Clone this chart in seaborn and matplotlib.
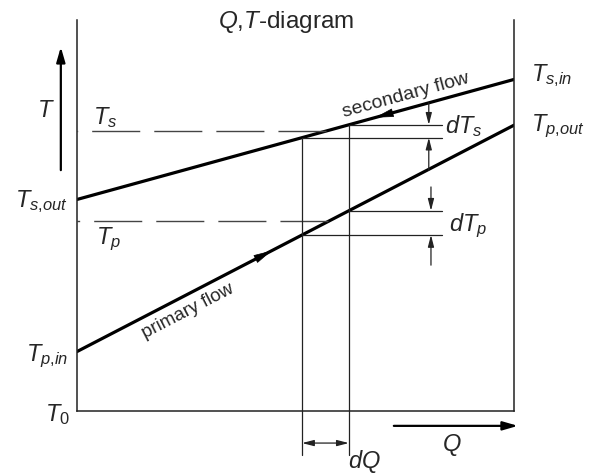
import numpy as np
import pandas as pd
import matplotlib
matplotlib.use('Agg')
import matplotlib.pyplot as plt
import seaborn as sns

sns.set_style('white')
plt.rcParams['font.family'] = ['Liberation Sans', 'DejaVu Sans']
plt.rcParams['mathtext.fontset'] = 'custom'
plt.rcParams['mathtext.rm'] = 'Liberation Sans'
plt.rcParams['mathtext.it'] = 'Liberation Sans:italic'

# Q,T diagram values (arbitrary units, T0 = 0)
Q_ends = [0.0, 10.0]
T_secondary = [5.41, 8.48]
T_primary = [1.52, 7.31]
Q_slice = [5.15, 6.22]          # the dQ slice
T_s_mid = 7.16
T_p_mid = 4.85
Q_dT_s = 8.05
Q_dT_p = 8.10
Q_tick_end = 8.35
T_slice_bottom = -1.13
T_dQ_arrow = -0.82
T_dTs_tails = [7.88, 6.16]
T_dTp_tails = [5.73, 3.73]
Q_axis_arrow = [7.25, 10.09]
T_of_Q_arrow = -0.38
Q_of_T_arrow = -0.37
T_axis_arrow = [6.16, 9.31]
Q_sec_head = [7.28, 6.82]       # base, tip
Q_prim_head = [4.07, 4.46]

thin = '#222222'
fs = 17

fig = plt.figure(figsize=(5.89, 4.75), dpi=100)
ax = fig.add_axes([77 / 589, 64 / 475, 437 / 589, 391 / 475])

df = pd.DataFrame({'Q': Q_ends * 2,
                   'T': T_secondary + T_primary,
                   'flow': ['secondary'] * 2 + ['primary'] * 2})
sns.lineplot(data=df, x='Q', y='T', hue='flow', palette={'secondary': 'black', 'primary': 'black'},
             lw=2.3, legend=False, ax=ax)

ax.set_xlim(0, 10)
ax.set_ylim(0, 10)
ax.set_xticks([])
ax.set_yticks([])
ax.set_xlabel('')
ax.set_ylabel('')
ax.spines['top'].set_visible(False)
for sp in ['left', 'right', 'bottom']:
    ax.spines[sp].set_color(thin)
    ax.spines[sp].set_linewidth(1.1)

T_s_at = np.interp(Q_slice, Q_ends, T_secondary)
T_p_at = np.interp(Q_slice, Q_ends, T_primary)
Q_s_cross = np.interp(T_s_mid, T_secondary, Q_ends)
Q_p_cross = np.interp(T_p_mid, T_primary, Q_ends)

# dashed mid temperature levels
ax.plot([Q_s_cross, 0], [T_s_mid, T_s_mid], color='#444444', lw=1.0, ls=(0, (34.6, 10.1)))
ax.plot([Q_p_cross, 0], [T_p_mid, T_p_mid], color='#444444', lw=1.0, ls=(0, (34.6, 10.1)))

# slice verticals and horizontal extension lines
for i in range(2):
    ax.plot([Q_slice[i], Q_slice[i]], [T_s_at[i], T_slice_bottom], color=thin, lw=0.9, clip_on=False)
    ax.plot([Q_slice[i], Q_tick_end], [T_s_at[i], T_s_at[i]], color=thin, lw=0.9)
    ax.plot([Q_slice[i], Q_tick_end], [T_p_at[i], T_p_at[i]], color=thin, lw=0.9)

small = dict(arrowstyle='-|>,head_length=7,head_width=1.8', mutation_scale=1, lw=0.9,
             color=thin, shrinkA=0, shrinkB=0)
ax.annotate('', xy=(Q_dT_s, T_s_at[1]), xytext=(Q_dT_s, T_dTs_tails[0]), arrowprops=small)
ax.annotate('', xy=(Q_dT_s, T_s_at[0]), xytext=(Q_dT_s, T_dTs_tails[1]), arrowprops=small)
ax.annotate('', xy=(Q_dT_p, T_p_at[1]), xytext=(Q_dT_p, T_dTp_tails[0]), arrowprops=small)
ax.annotate('', xy=(Q_dT_p, T_p_at[0]), xytext=(Q_dT_p, T_dTp_tails[1]), arrowprops=small)

dq = dict(small, arrowstyle='<|-|>,head_length=7,head_width=1.8')
ax.annotate('', xy=(Q_slice[0], T_dQ_arrow), xytext=(Q_slice[1], T_dQ_arrow),
            arrowprops=dq, annotation_clip=False)

big = dict(arrowstyle='-|>,head_length=9,head_width=2.6', mutation_scale=1, lw=1.6,
           color='black', shrinkA=0, shrinkB=0)
ax.annotate('', xy=(Q_axis_arrow[1], T_of_Q_arrow), xytext=(Q_axis_arrow[0], T_of_Q_arrow),
            arrowprops=big, annotation_clip=False)
ax.annotate('', xy=(Q_of_T_arrow, T_axis_arrow[1]), xytext=(Q_of_T_arrow, T_axis_arrow[0]),
            arrowprops=big, annotation_clip=False)

# flow direction heads
head = dict(arrowstyle='-|>,head_length=12,head_width=2.8', mutation_scale=1, lw=0.5,
            color='black', shrinkA=0, shrinkB=0)
sec_T = np.interp(Q_sec_head, Q_ends, T_secondary)
prim_T = np.interp(Q_prim_head, Q_ends, T_primary)
ax.annotate('', xy=(Q_sec_head[1], sec_T[1]), xytext=(Q_sec_head[0], sec_T[0]), arrowprops=head)
ax.annotate('', xy=(Q_prim_head[1], prim_T[1]), xytext=(Q_prim_head[0], prim_T[0]), arrowprops=head)

sec_angle = np.degrees(np.arctan((T_secondary[1] - T_secondary[0]) / (Q_ends[1] - Q_ends[0])))
prim_angle = np.degrees(np.arctan((T_primary[1] - T_primary[0]) / (Q_ends[1] - Q_ends[0])))
q = 7.55
ax.text(q, np.interp(q, Q_ends, T_secondary) + 0.22, 'secondary flow', fontsize=14,
        rotation=sec_angle, transform_rotates_text=True, rotation_mode='anchor',
        ha='center', va='baseline')
q = 2.45
ax.text(q, np.interp(q, Q_ends, T_primary) - 0.2, 'primary flow', fontsize=13.5,
        rotation=prim_angle, transform_rotates_text=True, rotation_mode='anchor',
        ha='center', va='top')

# labels
labels = [
    (4.78, 9.80, r'$Q$,$T$-diagram', 'center', 17.5),
    (-0.71, 7.52, r'$T$', 'center', fs),
    (0.37, 7.34, r'$T_s$', 'left', fs),
    (-0.21, 5.22, r'$T_{s{,}out}$', 'right', fs),
    (0.43, 4.27, r'$T_p$', 'left', fs),
    (-0.21, 1.28, r'$T_{p{,}in}$', 'right', fs),
    (-0.16, -0.26, r'$T_0$', 'right', fs),
    (10.39, 8.44, r'$T_{s{,}in}$', 'left', fs),
    (10.39, 7.16, r'$T_{p{,}out}$', 'left', fs),
    (8.42, 7.11, r'$dT_s$', 'left', fs),
    (8.51, 4.60, r'$dT_p$', 'left', fs),
    (8.58, -1.02, r'$Q$', 'center', fs),
    (6.20, -1.45, r'$dQ$', 'left', fs),
]
for x, y, s, ha, size in labels:
    ax.text(x, y, s, fontsize=size, ha=ha, va='baseline', clip_on=False)

fig.savefig('out.png', dpi=100)
